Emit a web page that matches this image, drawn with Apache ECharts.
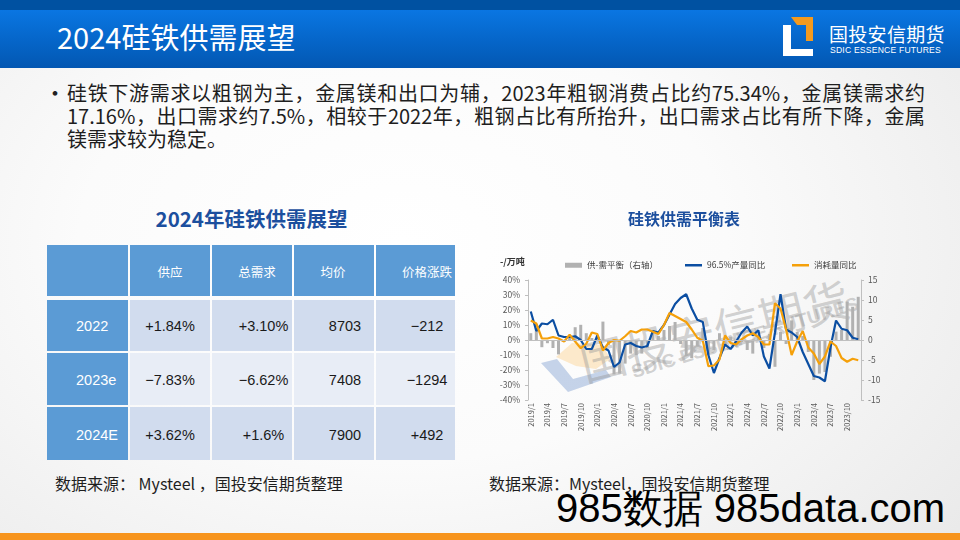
<!DOCTYPE html>
<html>
<head>
<meta charset="utf-8">
<script src="https://cdn.jsdelivr.net/npm/echarts@6/dist/echarts.min.js"></script>
<style>
html,body{margin:0;padding:0;}
body{width:960px;height:540px;position:relative;overflow:hidden;
  font-family:"Noto Sans CJK SC","Noto Sans",sans-serif;
  background:radial-gradient(ellipse 75% 90% at 42% 45%, #ffffff 0%, #fbfbfb 45%, #e9e9e9 100%);}
.abs{position:absolute;}
#topbar{left:0;top:0;width:960px;height:10px;background:#0051a1;}
#band{left:0;top:10px;width:960px;height:58px;background:linear-gradient(#0a76e2,#0565c8 55%,#0357b2);}
#title{left:57px;top:15px;height:42px;line-height:42px;font-size:29px;color:#fff;white-space:nowrap;}
#logoCn{left:829px;top:22px;font-size:19px;line-height:24px;color:#fff;white-space:nowrap;letter-spacing:0.3px;}
#logoEn{left:830px;top:45px;font-size:8.6px;line-height:10px;color:#fff;white-space:nowrap;font-family:"Liberation Sans Narrow","Liberation Sans",sans-serif;letter-spacing:0.2px;}
#bullet{left:44px;top:80px;font-size:22px;line-height:23px;color:#222;}
.bl{position:absolute;left:67px;width:858px;font-size:20px;line-height:23px;color:#1e1e1e;white-space:nowrap;}
.just{text-align:justify;text-align-last:justify;white-space:normal;}
#tTitle{left:47px;width:409px;top:204px;text-align:center;font-size:20.5px;font-weight:bold;color:#1c4f9e;line-height:28px;white-space:nowrap;}
.cell{position:absolute;}
.ct{position:absolute;white-space:nowrap;transform:translate(-50%,-50%);}
.src{position:absolute;font-size:16px;color:#1e1e1e;white-space:nowrap;line-height:20px;}
#big{left:556px;top:486px;font-size:40px;line-height:44px;color:#000;white-space:nowrap;font-family:"Liberation Sans",sans-serif;}
#orange{left:0;top:533px;width:960px;height:7px;background:#f7941d;}
.wm{position:absolute;white-space:nowrap;color:rgba(150,150,150,0.42);transform-origin:50% 50%;}
#chart{left:470px;top:200px;width:428px;height:245px;}
</style>
</head>
<body>
<div id="topbar" class="abs"></div>
<div id="band" class="abs"></div>
<div id="title" class="abs">2024硅铁供需展望</div>
<svg class="abs" style="left:0;top:0" width="960" height="70">
  <polygon points="791,17 813,17 813,41 806,41 806,25 797,25" fill="#f39a1e"/>
  <rect x="783" y="25" width="8" height="31" fill="#ffffff"/>
  <rect x="783" y="49" width="30" height="7" fill="#ffffff"/>
</svg>
<div id="logoCn" class="abs">国投安信期货</div>
<div id="logoEn" class="abs">SDIC ESSENCE FUTURES</div>

<div id="bullet" class="abs">•</div>
<div class="bl just" style="top:81px">硅铁下游需求以粗钢为主，金属镁和出口为辅，2023年粗钢消费占比约75.34%，金属镁需求约</div>
<div class="bl just" style="top:104px">17.16%，出口需求约7.5%，相较于2022年，粗钢占比有所抬升，出口需求占比有所下降，金属</div>
<div class="bl" style="top:127px">镁需求较为稳定。</div>

<div id="tTitle" class="abs">2024年硅铁供需展望</div>
<div id="table"></div>

<!-- watermark under chart -->
<svg class="abs" style="left:0;top:0" width="960" height="540">
  <polygon points="556,357 572,343 603,345 610,359 596,369 576,366" fill="rgba(252,190,90,0.3)"/>
  <polygon points="541,363 557,359 573,379 606,370 611,377 568,392" fill="rgba(70,115,190,0.3)"/>
</svg>
<div class="wm" style="left:714px;top:329px;font-size:46px;transform:translate(-50%,-50%) rotate(-14deg);">国投安信期货</div>
<div class="wm" style="left:745px;top:338px;font-size:19px;font-weight:bold;font-family:'Liberation Sans',sans-serif;transform:translate(-50%,-50%) rotate(-17deg);">SDIC ESSENCE FUTURES</div>

<div id="chart" class="abs"></div>

<div class="src" style="left:55px;top:473px">数据来源： Mysteel ，国投安信期货整理</div>
<div class="src" style="left:489px;top:473px">数据来源：Mysteel，国投安信期货整理</div>
<div id="big" class="abs">985数据 985data.com</div>
<div id="orange" class="abs"></div>

<script>
// ---------------- table data ----------------
const tableHeader = ['', '供应', '总需求', '均价', '价格涨跌'];
const tableRows = ['2022', '2023e', '2024E'];
const supplyChg = ['+1.84%', '−7.83%', '+3.62%'];
const demandChg = ['+3.10%', '−6.62%', '+1.6%'];
const avgPrice = ['8703', '7408', '7900'];
const priceChg = ['−212', '−1294', '+492'];

// ---------------- chart data ----------------
const categories = [
 '2019/1','2019/2','2019/3','2019/4','2019/5','2019/6','2019/7','2019/8','2019/9','2019/10','2019/11','2019/12',
 '2020/1','2020/2','2020/3','2020/4','2020/5','2020/6','2020/7','2020/8','2020/9','2020/10','2020/11','2020/12',
 '2021/1','2021/2','2021/3','2021/4','2021/5','2021/6','2021/7','2021/8','2021/9','2021/10','2021/11','2021/12',
 '2022/1','2022/2','2022/3','2022/4','2022/5','2022/6','2022/7','2022/8','2022/9','2022/10','2022/11','2022/12',
 '2023/1','2023/2','2023/3','2023/4','2023/5','2023/6','2023/7','2023/8','2023/9','2023/10','2023/11','2023/12'
];
const balance = [1.7,4,-1.8,-0.8,-2,-3.6,-0.5,0.5,3.2,3.8,
 1.7,0.5,1.2,4.6,-1.3,-8.6,-8.4,-5.9,-3.4,-3.8,
 -3.4,-2,2.1,1,2.5,3.5,4.5,-1,-4,-4.5,
 -1.5,3,-3.8,-2.5,1.7,-1.7,0.8,-1.7,-0.5,-2.5,
 -3.4,1,-2,1.5,-6.7,2,-1,4.9,2,1,
 -3,-10,-8.4,-8,-4.2,2.1,2.5,9.6,8.3,10.8];
const prodYoY = [19,6,11,10.5,13.5,3,2,2,2.5,0,
 -6,-6,3,-5,-7,-18,-15,-3,-2,-4,
 -5,-4,6,5,10,17,24,28,30.5,21,
 13.5,12,-10,-22,-12,-3,-6,-1,5,9,
 3,6.5,-11,-19,5,30.5,7,5,2,-8,
 -16,-24,-25,-27.5,-5,13,7.5,6.5,1.5,0.5];
const consYoY = [13,11,1,1,2,1,-1,3.5,-1,-5.5,
 -2.5,5,4,-7,-2,0,-0.5,2.5,6,5,
 7,7,5.5,4,10,18,16,14,12,7,
 1.5,-0.5,-17.5,-17,-13,3,-2,-3,0.5,3,
 4.5,2,-3,-3,24.5,21,7,-10,-1,6,
 -5,-9,-16,-11,-1,-4,-12,-14.5,-12.5,-13.5];
const seriesNames = ['供-需平衡（右轴）', '96.5%产量同比', '消耗量同比'];

// ---------------- build table ----------------
(function(){
  const colX = [47,129,211,293,375,456];
  const rowY = [245,297,352,406,461];
  const headCenters = [0,170,257,333,427];
  const dataCenters = [0,170,263.5,345,427];
  const t = document.getElementById('table');
  const add = (html) => { t.insertAdjacentHTML('beforeend', html); };
  const cols = [tableRows, supplyChg, demandChg, avgPrice, priceChg];
  for (let r = 0; r < 4; r++) {
    for (let c = 0; c < 5; c++) {
      const x0 = colX[c] + (c === 0 ? 0 : 1), x1 = colX[c+1] - 1;
      let y0 = rowY[r] + (r === 0 ? 0 : 1), y1 = rowY[r+1] - 1;
      if (r === 1) y0 = rowY[r] + 3;
      let bg;
      if (r === 0 || c === 0) bg = '#5b9bd5';
      else bg = (r % 2 === 1) ? '#d1dcee' : '#e8edf6';
      add(`<div class="cell" style="left:${x0}px;top:${y0}px;width:${x1-x0}px;height:${y1-y0}px;background:${bg}"></div>`);
      const cy = (rowY[r] + rowY[r+1]) / 2 + (r === 0 ? 0 : 1);
      if (r === 0) {
        if (c > 0) add(`<div class="ct" style="left:${headCenters[c]}px;top:${cy}px;font-size:12.5px;color:#fff">${tableHeader[c]}</div>`);
      } else if (c === 0) {
        add(`<div class="ct" style="left:76px;top:${cy}px;transform:translate(0,-50%);font-size:14.5px;color:#fff;font-family:'Liberation Sans',sans-serif">${cols[0][r-1]}</div>`);
      } else {
        add(`<div class="ct" style="left:${dataCenters[c]}px;top:${cy}px;font-size:14.5px;color:#1a1a1a;font-family:'Liberation Sans',sans-serif">${cols[c][r-1]}</div>`);
      }
    }
  }
})();

// ---------------- chart ----------------
const FF = '"Noto Sans CJK SC","Noto Sans",sans-serif';
const chart = echarts.init(document.getElementById('chart'), null, {renderer:'canvas'});
const legendBase = {top:56, itemWidth:17, textStyle:{fontSize:8.5, color:'#404040', fontFamily:FF}, icon:'rect', selectedMode:false};
chart.setOption({
  animation:false,
  textStyle:{fontFamily:FF},
  title:{text:'硅铁供需平衡表', left:'center', top:6, textStyle:{fontSize:16, fontWeight:'bold', color:'#1c4f9e', fontFamily:FF}},
  graphic:[{type:'text', left:30, top:57, style:{text:'-/万吨', font:'bold 9px "Noto Sans CJK SC"', fill:'#333'}}],
  legend:[
    Object.assign({}, legendBase, {data:[seriesNames[0]], left:90, itemHeight:5}),
    Object.assign({}, legendBase, {data:[seriesNames[1]], left:210, itemHeight:2.5}),
    Object.assign({}, legendBase, {data:[seriesNames[2]], left:317, itemHeight:2.5})
  ],
  grid:{left:58, top:80, width:333, height:120},
  xAxis:{type:'category', data:categories, boundaryGap:true,
    axisLine:{show:false}, axisTick:{show:false},
    axisLabel:{interval:2, rotate:90, fontSize:7.5, color:'#595959', margin:3, fontFamily:FF}},
  yAxis:[
    {type:'value', min:-40, max:40, interval:10,
     axisLine:{show:true, lineStyle:{color:'#bfbfbf'}},
     axisTick:{show:true, length:3, lineStyle:{color:'#bfbfbf'}},
     splitLine:{show:false},
     axisLabel:{formatter:'{value}%', fontSize:8.5, color:'#595959', margin:8}},
    {type:'value', min:-15, max:15, interval:5, position:'right',
     axisLine:{show:true, lineStyle:{color:'#bfbfbf'}},
     axisTick:{show:true, length:3, lineStyle:{color:'#bfbfbf'}},
     splitLine:{show:false},
     axisLabel:{fontSize:8.5, color:'#595959', margin:7}}
  ],
  series:[
    {name:seriesNames[0], type:'bar', yAxisIndex:1, data:balance, barWidth:3,
     itemStyle:{color:'#b1b1b1'},
     markLine:{silent:true, symbol:'none', label:{show:false},
       lineStyle:{color:'#bfbfbf', width:1, type:'solid'}, data:[{yAxis:0}]}},
    {name:seriesNames[1], type:'line', data:prodYoY, symbol:'none',
     lineStyle:{color:'#0b4ea2', width:2.2}, itemStyle:{color:'#0b4ea2'}},
    {name:seriesNames[2], type:'line', data:consYoY, symbol:'none',
     lineStyle:{color:'#f5a00a', width:2.2}, itemStyle:{color:'#f5a00a'}}
  ]
});
</script>
</body>
</html>
